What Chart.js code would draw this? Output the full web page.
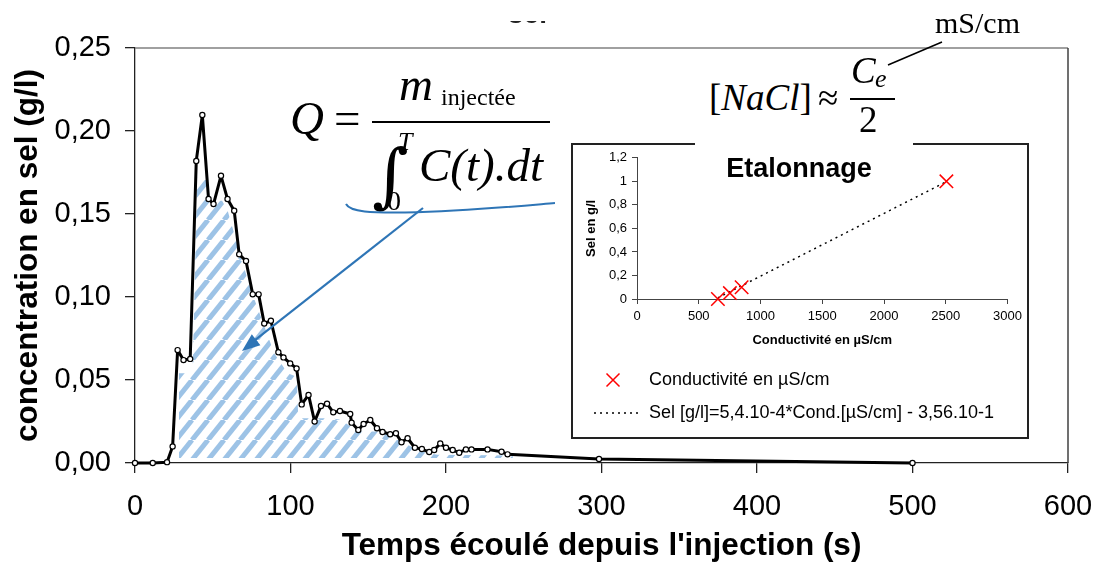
<!DOCTYPE html>
<html lang="fr">
<head>
<meta charset="utf-8">
<title>Concentration en sel</title>
<script src="https://cdn.jsdelivr.net/npm/chart.js@4.4.1/dist/chart.umd.min.js"></script>
<style>
body { margin: 0; background: #fff; }
#page { position: relative; width: 1098px; height: 563px; overflow: hidden; font-family: "Liberation Sans", Arial, sans-serif; }
#main { position: absolute; left: 0; top: 0; }
.f { position: absolute; font-family: "Liberation Serif", "Times New Roman", serif; line-height: 1; white-space: nowrap; color: #000; }
.it { font-style: italic; }
.bar { position: absolute; background: #000; }
#inset { position: absolute; left: 571px; top: 143px; width: 458px; height: 296px; box-sizing: border-box; border: 2px solid #222; background: #fff; }
#etal { display: block; }
#nacl-bg { position: absolute; left: 695px; top: 52px; width: 218px; height: 95px; background: #fff; }
#selcut { position: absolute; left: 508px; top: 21px; width: 46px; height: 4px; overflow: hidden; }
#selcut span { position: absolute; left: 0; top: -20.7px; font: bold 28px/1 "Liberation Sans", Arial, sans-serif; color: #222; }
#annot { position: absolute; left: 0; top: 0; }
</style>
</head>
<body>
<div id="page">
  <canvas id="main" width="1098" height="563"></canvas>
  <div id="selcut"><span>sel</span></div>

  <div id="inset"><canvas id="etal" width="454" height="292"></canvas></div>
  <div id="nacl-bg"></div>

  <!-- Q = m / integrale -->
  <span class="f it" style="left:290px;top:94.6px;font-size:47px">Q</span>
  <span class="f" style="left:334px;top:94.6px;font-size:47px">=</span>
  <span class="f it" style="left:399px;top:60.6px;font-size:47px">m</span>
  <span class="f" style="left:441px;top:85px;font-size:24px">injectée</span>
  <div class="bar" style="left:372px;top:121px;width:178px;height:2px"></div>
  <span class="f" style="left:372px;top:140px;font-size:70px;font-family:'DejaVu Serif',serif">∫</span>
  <span class="f it" style="left:398px;top:129px;font-size:26px">T</span>
  <span class="f" style="left:387px;top:187px;font-size:28px">0</span>
  <span class="f it" style="left:419px;top:142px;font-size:47px">C(t).dt</span>

  <!-- [NaCl] ~ Ce/2 -->
  <span class="f" style="left:709px;top:79.3px;font-size:37px">[<i>NaCl</i>]</span>
  <span class="f" style="left:818px;top:79.3px;font-size:37px">≈</span>
  <span class="f it" style="left:851px;top:52px;font-size:37px">C</span>
  <span class="f it" style="left:875px;top:66px;font-size:26px">e</span>
  <div class="bar" style="left:850px;top:98px;width:45px;height:2px"></div>
  <span class="f" style="left:859px;top:101px;font-size:37px">2</span>
  <span class="f" style="left:935px;top:8px;font-size:30px">mS/cm</span>

  <svg id="annot" width="1098" height="563" viewBox="0 0 1098 563">
    <path d="M346,204 C350,212 372,213 405,212.5 C470,211 520,206 555,203" fill="none" stroke="#2e75b6" stroke-width="2"/>
    <line x1="423" y1="208" x2="254" y2="341" stroke="#2e75b6" stroke-width="2.2"/>
    <polygon points="242,351 260.4,345.3 251.8,334.3" fill="#2e75b6"/>
    <line x1="888" y1="65" x2="942" y2="42" stroke="#000" stroke-width="1.5"/>
  </svg>
</div>

<script>
Chart.defaults.font.family = '"Liberation Sans", Arial, sans-serif';

// courbe de restitution (temps en s, concentration en g/l)
var temps = [0, 11.4, 20.6, 24.2, 27.4, 31.2, 35.5, 39.4, 43.3, 47.3, 50.5, 55.3, 59.5, 63.8, 67, 71.4,
  75.7, 79.5, 83.1, 87.4, 92.2, 95.5, 99.8, 103.9, 107.2, 111.6, 115.5, 119.6, 123.5, 127.5, 131.8,
  138.4, 139.3, 143.6, 147, 151.3, 155.6, 159.2, 164.1, 167.8, 171.4, 175.3, 180, 184.5, 189.2,
  192.4, 196.3, 200, 204.3, 208.5, 212.8, 216.4, 226.7, 235.7, 239.6, 298.4, 500];
var concentration = [0, 0, 0.0005, 0.010, 0.068, 0.062, 0.0627, 0.182, 0.2096, 0.159, 0.156, 0.173, 0.159,
  0.152, 0.1257, 0.1217, 0.1016, 0.1016, 0.084, 0.0857, 0.0667, 0.0636, 0.060, 0.057, 0.0353, 0.041,
  0.025, 0.0343, 0.0357, 0.0305, 0.0313, 0.0295, 0.0243, 0.0199, 0.0235, 0.0259, 0.0209, 0.0187,
  0.0173, 0.0179, 0.0125, 0.0149, 0.0092, 0.0084, 0.0066, 0.0078, 0.0118, 0.0092, 0.0078, 0.0062,
  0.0082, 0.0082, 0.0082, 0.0068, 0.0052, 0.0024, 0];

// zone hachuree sous la courbe
var tempsAire = [28.3, 37, 40, 46, 46.5, 56, 59.6, 68.1, 74.6, 81, 89.6, 98.2, 104, 105, 126, 132.5,
  143.1, 158.2, 166.7, 175.3, 183.7, 194.4, 243];
var concAire = [0.054, 0.054, 0.172, 0.172, 0.158, 0.158, 0.152, 0.124, 0.104, 0.088, 0.066, 0.054,
  0.052, 0.027, 0.027, 0.026, 0.019, 0.019, 0.016, 0.011, 0.007, 0.005, 0.0045];
var baseAire = 0.003;

var titreX = "Temps écoulé depuis l'injection (s)";
var titreY = 'concentration en sel (g/l)';

// etalonnage
var conductivite = [655, 752, 847, 2505];
var selEtal = [0, 0.05, 0.10, 1.0];
var condTendance = [655, 2505];
var selTendance = [0.01, 0.997];
var labelEtal = 'Conductivité en µS/cm';
var labelTendance = 'Sel [g/l]=5,4.10-4*Cond.[µS/cm] - 3,56.10-1';

function toPoints(xs, ys) {
  return xs.map(function (x, i) { return { x: x, y: ys[i] }; });
}

function virgule(v, d) {
  return v.toFixed(d).replace('.', ',');
}

function makeHatch() {
  var c = document.createElement('canvas');
  var w = 16, h = 20;
  c.width = w;
  c.height = h;
  var g = c.getContext('2d');
  g.strokeStyle = 'rgb(157,195,230)';
  g.lineWidth = 5;
  [-w, 0, w].forEach(function (dx) {
    g.beginPath();
    g.moveTo(dx, h);
    g.lineTo(dx + w, 0);
    g.stroke();
  });
  return g.createPattern(c, 'repeat');
}

// petite croix rouge pour la legende (decalee un peu a gauche)
function makeCroix() {
  var c = document.createElement('canvas');
  c.width = 24;
  c.height = 16;
  var g = c.getContext('2d');
  g.strokeStyle = '#ff0000';
  g.lineWidth = 1.5;
  g.beginPath();
  g.moveTo(1.5, 1.5); g.lineTo(14.5, 14.5);
  g.moveTo(14.5, 1.5); g.lineTo(1.5, 14.5);
  g.stroke();
  return c;
}

var cadre = {
  id: 'cadre',
  afterDraw: function (chart) {
    var a = chart.chartArea, ctx = chart.ctx;
    ctx.save();
    ctx.lineWidth = 1.5;
    ctx.strokeStyle = '#808080';
    ctx.beginPath();
    ctx.moveTo(a.left, a.top);
    ctx.lineTo(a.right, a.top);
    ctx.stroke();
    ctx.strokeStyle = '#404040';
    ctx.beginPath();
    ctx.moveTo(a.right, a.top);
    ctx.lineTo(a.right, a.bottom);
    ctx.stroke();
    ctx.restore();
  }
};

var grosseFonte = { size: 29 };
var titreFonte = { size: 31.5, weight: 'bold' };

var mainChart = new Chart(document.getElementById('main'), {
  type: 'line',
  data: {
    datasets: [
      {
        label: 'Concentration',
        data: toPoints(temps, concentration),
        borderColor: '#000',
        borderWidth: 3,
        borderJoinStyle: 'round',
        pointRadius: 2.6,
        pointBackgroundColor: '#fff',
        pointBorderColor: '#000',
        pointBorderWidth: 1.2,
        tension: 0,
        fill: false,
        clip: false,
        order: 0
      },
      {
        label: 'Aire',
        data: toPoints(tempsAire, concAire),
        borderColor: 'rgba(0,0,0,0)',
        borderWidth: 0,
        pointRadius: 0,
        backgroundColor: makeHatch(),
        fill: { value: baseAire },
        tension: 0,
        order: 1
      }
    ]
  },
  options: {
    responsive: false,
    animation: false,
    devicePixelRatio: 1,
    layout: { padding: { top: 48, right: 30, left: 0, bottom: 0 } },
    plugins: { legend: { display: false }, tooltip: { enabled: false } },
    scales: {
      x: {
        type: 'linear',
        min: 0,
        max: 600,
        afterFit: function (s) { s.height = 100; s.paddingLeft = 0; s.paddingRight = 30; },
        ticks: { stepSize: 100, font: grosseFonte, color: '#000', padding: 17, maxRotation: 0,
          callback: function (v) { return String(v); } },
        grid: { drawOnChartArea: false, tickLength: 10, color: '#222', lineWidth: 1.3 },
        border: { color: '#222', width: 1.3 },
        title: { display: true, text: titreX, font: titreFonte, color: '#000', padding: { top: 0, bottom: -2 } }
      },
      y: {
        min: 0,
        max: 0.25,
        afterFit: function (s) { s.width = 135; },
        ticks: { stepSize: 0.05, font: grosseFonte, color: '#000', padding: 14,
          callback: function (v) { return virgule(v, 2); } },
        grid: { drawOnChartArea: false, tickLength: 10, color: '#222', lineWidth: 1.3 },
        border: { color: '#222', width: 1.3 },
        title: { display: true, text: titreY, font: titreFonte, color: '#000', padding: { top: 9, bottom: 0 } }
      }
    }
  },
  plugins: [cadre]
});

var titreEtal = {
  id: 'titreEtal',
  afterDraw: function (chart) {
    var ctx = chart.ctx;
    ctx.save();
    ctx.font = 'bold 27px "Liberation Sans", Arial, sans-serif';
    ctx.fillStyle = '#000';
    ctx.textAlign = 'center';
    ctx.textBaseline = 'middle';
    ctx.fillText('Etalonnage', 226, 25);
    ctx.restore();
  }
};

var croix = makeCroix();

var etalChart = new Chart(document.getElementById('etal'), {
  type: 'scatter',
  data: {
    datasets: [
      {
        label: labelEtal,
        data: toPoints(conductivite, selEtal),
        pointStyle: 'crossRot',
        pointRadius: 9.5,
        pointBorderColor: '#ff0000',
        pointBackgroundColor: '#ff0000',
        pointBorderWidth: 1.5,
        showLine: false,
        clip: false
      },
      {
        label: labelTendance,
        data: toPoints(condTendance, selTendance),
        showLine: true,
        borderColor: '#000',
        borderWidth: 1.5,
        borderDash: [2, 4],
        pointRadius: 0,
        fill: false
      }
    ]
  },
  options: {
    responsive: false,
    animation: false,
    devicePixelRatio: 1,
    layout: { padding: { top: 10, right: 19, left: 6, bottom: 5 } },
    plugins: {
      tooltip: { enabled: false },
      legend: {
        position: 'bottom',
        align: 'start',
        labels: {
          usePointStyle: true,
          pointStyleWidth: 46,
          boxHeight: 13,
          padding: 15,
          font: { size: 18 },
          color: '#000',
          generateLabels: function () {
            return [
              { text: labelEtal, pointStyle: croix, strokeStyle: '#ff0000', fillStyle: '#ff0000',
                lineWidth: 1.5, datasetIndex: 0, fontColor: '#000' },
              { text: labelTendance, pointStyle: 'line', strokeStyle: '#000', fillStyle: '#000',
                lineWidth: 1.5, lineDash: [2, 4], datasetIndex: 1, fontColor: '#000' }
            ];
          }
        }
      }
    },
    scales: {
      x: {
        type: 'linear',
        min: 0,
        max: 3000,
        afterFit: function (s) { s.height = 57; },
        ticks: { stepSize: 500, font: { size: 13 }, color: '#000', padding: 5, maxRotation: 0,
          callback: function (v) { return String(v); } },
        grid: { drawOnChartArea: false, tickLength: 5, color: '#444' },
        border: { color: '#444' },
        title: { display: true, text: 'Conductivité en µS/cm', font: { size: 13, weight: 'bold' }, color: '#000', padding: { top: 0, bottom: 8 } }
      },
      y: {
        min: 0,
        max: 1.2,
        afterFit: function (s) { s.width = 58; },
        ticks: { stepSize: 0.2, font: { size: 13 }, color: '#000', padding: 5,
          callback: function (v) { return String(Math.round(v * 10) / 10).replace('.', ','); } },
        grid: { drawOnChartArea: false, tickLength: 5, color: '#444' },
        border: { color: '#444' },
        title: { display: true, text: 'Sel en g/l', font: { size: 13, weight: 'bold' }, color: '#000', padding: { top: 5, bottom: 0 } }
      }
    }
  },
  plugins: [titreEtal]
});
</script>
</body>
</html>
